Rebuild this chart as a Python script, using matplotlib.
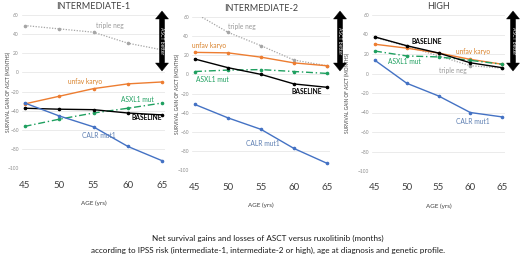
import numpy as np
import matplotlib
matplotlib.use('Agg')
import matplotlib.pyplot as plt
from matplotlib.patches import Polygon

plt.rcParams['font.family'] = ['Lato', 'DejaVu Sans']

ages = [45, 50, 55, 60, 65]
panels = ['INTERMEDIATE-1', 'INTERMEDIATE-2', 'HIGH']
series = ['triple neg', 'unfav karyo', 'ASXL1 mut', 'BASELINE', 'CALR mut1']

# survival gain of ASCT (months), one list per panel and series
int1 = {
    'triple neg': [49, 45.5, 42, 30.5, 23.5],
    'unfav karyo': [-33, -25, -17, -12, -10],
    'ASXL1 mut': [-56.5, -49, -42.5, -37.5, -32],
    'BASELINE': [-37.5, -38.5, -39, -42.5, -44.5],
    'CALR mut1': [-32, -45.5, -57, -77.5, -92.5],
}
int2 = {
    'triple neg': [64, 44, 30, 15, 9],
    'unfav karyo': [23, 22.5, 18, 12, 9],
    'ASXL1 mut': [3, 4.5, 5, 3, 1],
    'BASELINE': [16, 7, 0, -10, -13.5],
    'CALR mut1': [-31.5, -45.5, -57.5, -77.5, -93],
}
high = {
    'triple neg': [37, 28, 18, 8, 5.5],
    'unfav karyo': [30, 26, 21, 14.5, 9.5],
    'ASXL1 mut': [23, 18, 17, 13.5, 9.5],
    'BASELINE': [37.5, 28.5, 21, 11, 6],
    'CALR mut1': [13.5, -10, -23, -40, -44.5],
}
data = [int1, int2, high]

colors = {
    'triple neg': '#A5A5A5',
    'unfav karyo': '#ED7D31',
    'ASXL1 mut': '#1FA060',
    'BASELINE': '#000000',
    'CALR mut1': '#4472C4',
}
label_colors = {
    'triple neg': '#9A9A9A',
    'unfav karyo': '#D9822B',
    'ASXL1 mut': '#1FA060',
    'BASELINE': '#000000',
    'CALR mut1': '#5B7DB1',
}
styles = {
    'triple neg': (0, (1, 1.2)),
    'unfav karyo': '-',
    'ASXL1 mut': (0, (5, 2, 1, 2)),
    'BASELINE': '-',
    'CALR mut1': '-',
}

# label positions (data coords) per panel
label_pos = [
    {'triple neg': (57.4, 49.5), 'unfav karyo': (53.8, -10), 'ASXL1 mut': (61.4, -28),
     'BASELINE': (62.8, -47.5), 'CALR mut1': (55.7, -65.5)},
    {'triple neg': (52.1, 50.5), 'unfav karyo': (47.2, 30.5), 'ASXL1 mut': (47.6, -5),
     'BASELINE': (62.0, -18), 'CALR mut1': (55.3, -72)},
    {'triple neg': (57.3, 3.5), 'unfav karyo': (60.4, 22.5), 'ASXL1 mut': (49.7, 12.5),
     'BASELINE': (53.2, 32.5), 'CALR mut1': (60.4, -49.5)},
]

W, H = 520, 256
fig = plt.figure(figsize=(5.2, 2.56), dpi=100, facecolor='white')

# pixel layout: (left, right, top, bottom) of each plot area, x-limits
boxes = [(21.6, 165.4, 15, 168), (191.7, 330.3, 17, 170), (371.8, 505.2, 15, 171)]
xlims = [(44.56, 65.44), (44.5, 65.5), (44.5, 65.5)]
ylab_x = [8, 177, 347]
arrow_x = [162, 340, 513]


def double_arrow(xc, top, bot, shaft=2.6, head=6.5, hlen=8):
    pts = [(xc, top), (xc + head, top + hlen), (xc + shaft, top + hlen),
           (xc + shaft, bot - hlen), (xc + head, bot - hlen), (xc, bot),
           (xc - head, bot - hlen), (xc - shaft, bot - hlen),
           (xc - shaft, top + hlen), (xc - head, top + hlen)]
    return [(px / W, 1 - py / H) for px, py in pts]


for i, ax_data in enumerate(data):
    l, r, t, b = boxes[i]
    ax = fig.add_axes([l / W, 1 - b / H, (r - l) / W, (b - t) / H])
    ax.set_xlim(*xlims[i])
    ax.set_ylim(-100, 60)
    for s in series:
        ax.plot(ages, ax_data[s], color=colors[s], linestyle=styles[s],
                lw=1.0 if s != 'triple neg' else 0.9, marker='o', ms=1.6,
                clip_on=True, zorder=3)
        tx, ty = label_pos[i][s]
        ax.text(tx, ty, s, color=label_colors[s], fontsize=4.8, ha='center', va='center',
                fontweight='bold' if s == 'BASELINE' else 'normal', zorder=4)
    ax.set_yticks(np.arange(-100, 61, 20))
    ax.set_xticks(ages)
    ax.grid(axis='y', color='#E3E3E3', lw=0.5)
    ax.set_axisbelow(True)
    for sp in ax.spines.values():
        sp.set_visible(False)
    ax.tick_params(axis='y', length=0, labelsize=3.5, labelcolor='#8C8C8C', pad=2)
    ax.tick_params(axis='x', length=0, labelsize=7, labelcolor='#404040', pad=9)
    ax.set_title(panels[i], fontsize=6.5, color='#404040', pad=4)
    ax.set_xlabel('AGE (yrs)', fontsize=4.5, color='#404040', labelpad=8)
    fig.text(ylab_x[i] / W, 1 - ((t + b) / 2) / H, 'SURVIVAL GAIN OF ASCT (MONTHS)',
             rotation=90, fontsize=3.4, color='#404040', ha='center', va='center')

    # "ASCT better" double arrow
    fig.patches.append(Polygon(double_arrow(arrow_x[i], 11, 71), closed=True,
                               transform=fig.transFigure, facecolor='black',
                               edgecolor='black', lw=0.3, zorder=5))
    fig.text(arrow_x[i] / W, 1 - 41 / H, 'ASCT better', rotation=270, fontsize=3.6,
             color='white', ha='center', va='center', zorder=6)

fig.text(0.515, 1 - 238 / H, 'Net survival gains and losses of ASCT versus ruxolitinib (months)',
         ha='center', va='center', fontsize=5.9, color='#1A1A1A')
fig.text(0.515, 1 - 250 / H,
         'according to IPSS risk (intermediate-1, intermediate-2 or high), age at diagnosis and genetic profile.',
         ha='center', va='center', fontsize=5.9, color='#1A1A1A')

fig.savefig('out.png', dpi=100, facecolor='white')
